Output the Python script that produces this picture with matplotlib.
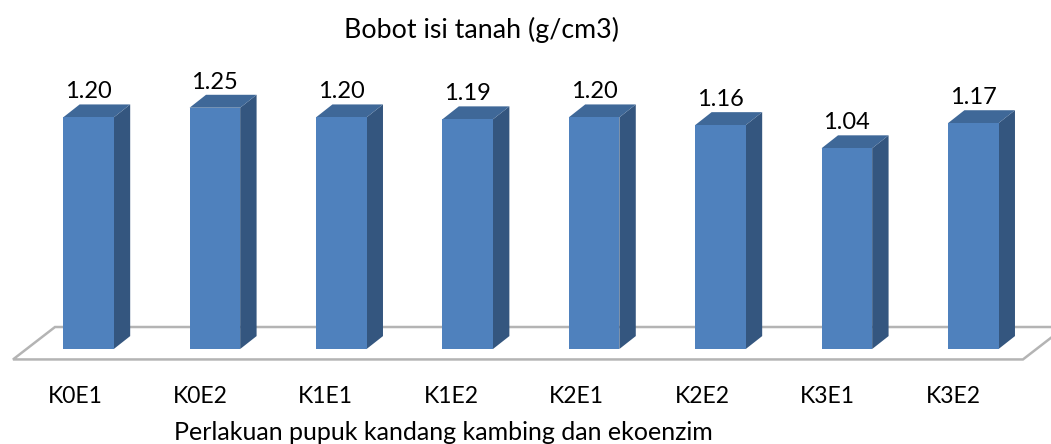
import matplotlib.pyplot as plt
from matplotlib.patches import Polygon

# data
perlakuan = ['K0E1', 'K0E2', 'K1E1', 'K1E2', 'K2E1', 'K2E2', 'K3E1', 'K3E2']
bobot_isi = [1.20, 1.25, 1.20, 1.19, 1.20, 1.16, 1.04, 1.17]

plt.rcParams['font.family'] = ['Lato', 'DejaVu Sans']

# warna ala Excel 3D
c_depan = '#4f81bd'
c_samping = '#34567f'
c_atas = '#3f6898'
c_lantai = '#b4b4b4'

lebar = 0.40     # lebar bar (unit kategori)
dx, dy = 0.13, 0.067   # kedalaman 3D

fig = plt.figure(figsize=(10.51, 4.44), dpi=100)
ax = fig.add_axes([0, 0, 1, 1])
ax.set_xlim(-0.700, 7.615)
ax.set_ylim(-0.492, 1.808)
ax.axis('off')

n = len(perlakuan)
# lantai (floor)
y_depan, y_belakang = -0.054, 0.114
lantai = Polygon([(-0.597, y_depan), (-0.265, y_belakang),
                  (n - 1 + 0.725, y_belakang), (n - 1 + 0.393, y_depan)],
                 closed=True, facecolor='white', edgecolor=c_lantai, lw=1.8, zorder=1)
ax.add_patch(lantai)

for i, (nama, v) in enumerate(zip(perlakuan, bobot_isi)):
    x0, x1 = i - lebar / 2, i + lebar / 2
    depan = Polygon([(x0, 0), (x1, 0), (x1, v), (x0, v)],
                    facecolor=c_depan, edgecolor='none', zorder=3)
    samping = Polygon([(x1, 0), (x1 + dx, dy), (x1 + dx, v + dy), (x1, v)],
                      facecolor=c_samping, edgecolor='none', zorder=2)
    atas = Polygon([(x0, v), (x0 + dx, v + dy), (x1 + dx, v + dy), (x1, v)],
                   facecolor=c_atas, edgecolor='none', zorder=2)
    for p in (samping, atas, depan):
        ax.add_patch(p)
    ax.text(i, v + dy + 0.031, f'{v:.2f}', ha='center', va='baseline',
            fontsize=17, color='black')
    ax.text(i - 0.107 - 0.0075 * i, -0.280, nama, ha='center', va='baseline',
            fontsize=16.5, color='black')

fig.text(0.458, 0.915, 'Bobot isi tanah (g/cm3)', ha='center', va='baseline',
         fontsize=19.3)
fig.text(0.4215, 0.009, 'Perlakuan pupuk kandang kambing dan ekoenzim',
         ha='center', va='baseline', fontsize=18)

fig.savefig('out.png', dpi=100, facecolor='white')
